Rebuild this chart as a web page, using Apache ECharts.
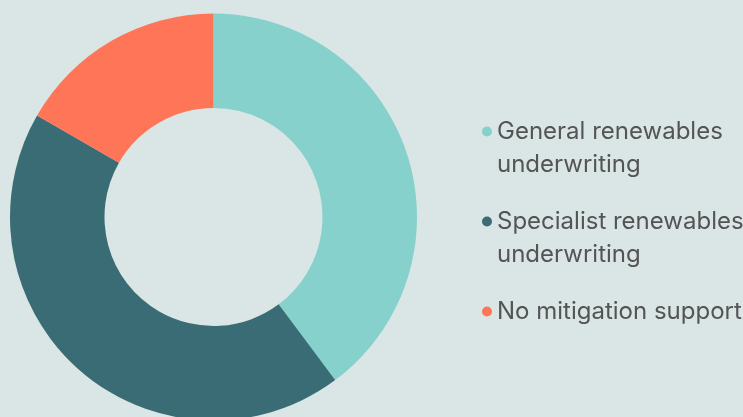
<!DOCTYPE html>
<html>
<head>
<meta charset="utf-8">
<style>
html,body{margin:0;padding:0;background:#DAE6E5;}
#chart{width:743px;height:417px;}
</style>
<script src="https://cdn.jsdelivr.net/npm/echarts@6/dist/echarts.min.js"></script>
</head>
<body>
<div id="chart"></div>
<script>
const categories = ["General renewables\nunderwriting", "Specialist renewables\nunderwriting", "No mitigation support"];
const values = [39.8, 43.5, 16.7];
const colors = ["#86D1CB", "#3A6C76", "#FF7558"];

const chart = echarts.init(document.getElementById('chart'), null, {renderer: 'canvas'});
chart.setOption({
  backgroundColor: '#DAE6E5',
  animation: false,
  legend: {
    orient: 'vertical',
    left: 477,
    top: 77,
    icon: 'circle',
    itemWidth: 10,
    itemHeight: 10,
    itemGap: -9,
    formatter: function (name) {
      return name.indexOf('\n') >= 0 ? '\u00a0\n' + name : '\u00a0\n' + name + '\n\u00a0';
    },
    textStyle: {fontFamily: 'Inter', fontSize: 24, color: '#545454', lineHeight: 33},
    data: categories
  },
  series: [{
    type: 'pie',
    center: [213.5, 217],
    radius: [109, 203.5],
    startAngle: 90,
    clockwise: true,
    label: {show: false},
    labelLine: {show: false},
    emphasis: {disabled: true},
    itemStyle: {borderWidth: 0},
    data: categories.map((c, i) => ({name: c, value: values[i], itemStyle: {color: colors[i]}}))
  }]
});
</script>
</body>
</html>
